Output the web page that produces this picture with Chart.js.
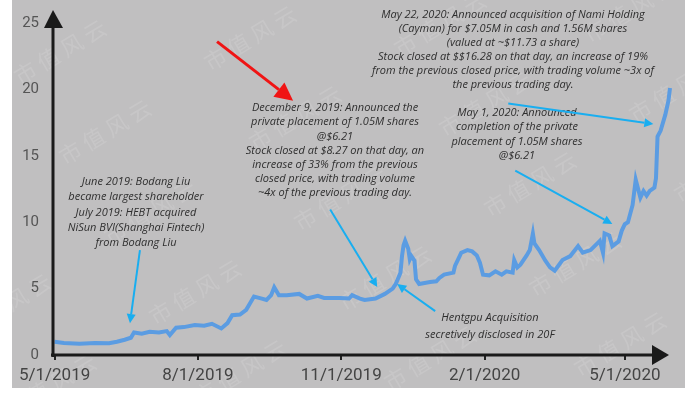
<!DOCTYPE html>
<html>
<head>
<meta charset="utf-8">
<title>NiSun share price</title>
<script src="https://cdn.jsdelivr.net/npm/chart.js@4.4.1/dist/chart.umd.min.js"></script>
<style>
  html, body { margin: 0; padding: 0; background: #ffffff; }
  #wrap { width: 700px; height: 393px; }
</style>
</head>
<body>
<div id="wrap"><canvas id="myChart"></canvas></div>
<script>
// closing price (USD)
var dates = [
  '2019-05-01','2019-05-07','2019-05-17','2019-05-27','2019-06-05','2019-06-10','2019-06-15','2019-06-19','2019-06-21','2019-06-26',
  '2019-07-01','2019-07-07','2019-07-12','2019-07-14','2019-07-18','2019-07-23','2019-07-30','2019-08-05','2019-08-10','2019-08-16',
  '2019-08-20','2019-08-23','2019-08-28','2019-09-01','2019-09-03','2019-09-06','2019-09-11','2019-09-14','2019-09-17','2019-09-19',
  '2019-09-22','2019-09-27','2019-10-05','2019-10-10','2019-10-17','2019-10-21','2019-10-31','2019-11-06','2019-11-08','2019-11-13',
  '2019-11-16','2019-11-23','2019-11-29','2019-12-04','2019-12-06','2019-12-09','2019-12-10','2019-12-11','2019-12-12','2019-12-14',
  '2019-12-15','2019-12-16','2019-12-18','2019-12-19','2019-12-21','2019-12-28','2020-01-01','2020-01-03','2020-01-06','2020-01-12',
  '2020-01-13','2020-01-16','2020-01-17','2020-01-21','2020-01-24','2020-01-27','2020-01-29','2020-01-31','2020-02-04','2020-02-08',
  '2020-02-12','2020-02-15','2020-02-19','2020-02-20','2020-02-22','2020-02-24','2020-02-28','2020-03-01','2020-03-03','2020-03-04',
  '2020-03-07','2020-03-11','2020-03-14','2020-03-17','2020-03-22','2020-03-27','2020-04-01','2020-04-04','2020-04-09','2020-04-15',
  '2020-04-17','2020-04-18','2020-04-21','2020-04-23','2020-04-27','2020-04-29','2020-05-01','2020-05-03','2020-05-06','2020-05-08',
  '2020-05-11','2020-05-13','2020-05-15','2020-05-17','2020-05-20','2020-05-21','2020-05-22','2020-05-24','2020-05-27','2020-05-29',
  '2020-05-30'
];
var prices = [
  1.0, 0.9, 0.85, 0.9, 0.88, 1.0, 1.15, 1.3, 1.7, 1.6,
  1.75, 1.7, 1.8, 1.5, 2.05, 2.1, 2.25, 2.2, 2.35, 2.0,
  2.4, 3.0, 3.05, 3.4, 3.8, 4.4, 4.25, 4.15, 4.5, 5.1,
  4.5, 4.5, 4.6, 4.25, 4.45, 4.3, 4.3, 4.25, 4.5, 4.25,
  4.15, 4.25, 4.6, 5.0, 5.35, 6.2, 7.45, 8.27, 8.6, 8.0,
  7.2, 7.45, 7.1, 5.7, 5.35, 5.5, 5.55, 5.8, 6.05, 6.2,
  6.7, 7.45, 7.7, 7.9, 7.8, 7.5, 6.95, 6.05, 6.0, 6.3,
  6.05, 6.3, 6.2, 7.15, 6.6, 6.8, 7.5, 7.9, 9.15, 8.4,
  7.9, 7.1, 6.6, 6.35, 7.15, 7.45, 8.2, 7.7, 7.9, 8.6,
  7.7, 9.15, 9.0, 8.2, 8.55, 9.35, 9.85, 10.0, 11.3, 13.2,
  11.85, 12.35, 12.0, 12.35, 12.6, 13.3, 16.45, 16.9, 18.1, 19.15,
  20.1
];
var tickDates = ['2019-05-01', '2019-08-01', '2019-11-01', '2020-02-01', '2020-05-01'];
var tickLabels = ['5/1/2019', '8/1/2019', '11/1/2019', '2/1/2020', '5/1/2020'];
var yMax = 25;
var yStep = 5;

// annotation text blocks: centre x, first line y (pixels), line gap
var notes = [
  { x: 136, y: 182, gap: 15.3, lines: ['June 2019: Bodang Liu', 'became largest shareholder', 'July 2019: HEBT acquired', 'NiSun BVI(Shanghai Fintech)', 'from Bodang Liu'] },
  { x: 335, y: 108, gap: 14.2, lines: ['December 9, 2019: Announced the', 'private placement of 1.05M shares', '@$6.21', 'Stock closed at $8.27 on that day, an', 'increase of 33% from the previous', 'closed price, with trading volume', '~4x of the previous trading day.'] },
  { x: 490, y: 318, gap: 17, lines: ['Hentgpu Acquisition', 'secretively disclosed in 20F'] },
  { x: 513, y: 15, gap: 14, lines: ['May 22, 2020: Announced acquisition of Nami Holding', '(Cayman) for $7.05M in cash and 1.56M shares', '(valued at ~$11.73 a share)', 'Stock closed at $$16.28 on that day, an increase of 19%', 'from the previous closed price, with trading volume ~3x of', 'the previous trading day.'] },
  { x: 517, y: 113, gap: 14.3, lines: ['May 1, 2020: Announced', 'completion of the private', 'placement of 1.05M shares', '@$6.21'] }
];

// pointer arrows, in chart units [day since 5/1/2019, price]
var arrows = [
  { from: [54.8, 7.9], to: [48.4, 2.4], color: '#19aef0', width: 2, head: 9 },
  { from: [176.9, 10.96], to: [207.1, 5.12], color: '#19aef0', width: 2, head: 9 },
  { from: [244.3, 3.3], to: [219.9, 5.34], color: '#19aef0', width: 2, head: 9 },
  { from: [291.2, 18.93], to: [384.3, 17.4], color: '#19aef0', width: 2, head: 9 },
  { from: [295.7, 13.89], to: [358.0, 9.87], color: '#19aef0', width: 2, head: 9 },
  { from: [104.3, 23.6], to: [153.1, 19.15], color: '#f01414', width: 3, head: 18 }
];

var noteFont = 'italic 11px "Open Sans"';
var noteColor = '#2e2e2e';

function dayOf(s) {
  var p = s.split('-');
  return (Date.UTC(+p[0], +p[1] - 1, +p[2]) - Date.UTC(2019, 4, 1)) / 86400000;
}

var points = dates.map(function (d, i) {
  return { x: dayOf(d), y: prices[i] };
});

function drawArrow(ctx, x1, y1, x2, y2, color, width, head) {
  var ang = Math.atan2(y2 - y1, x2 - x1);
  var bx = x2 - head * Math.cos(ang);
  var by = y2 - head * Math.sin(ang);
  ctx.strokeStyle = color;
  ctx.fillStyle = color;
  ctx.lineWidth = width;
  ctx.beginPath();
  ctx.moveTo(x1, y1);
  ctx.lineTo(bx, by);
  ctx.stroke();
  ctx.beginPath();
  ctx.moveTo(x2, y2);
  ctx.lineTo(bx + head * 0.5 * Math.sin(ang), by - head * 0.5 * Math.cos(ang));
  ctx.lineTo(bx - head * 0.5 * Math.sin(ang), by + head * 0.5 * Math.cos(ang));
  ctx.closePath();
  ctx.fill();
}

var decorPlugin = {
  id: 'decor',
  beforeDraw: function (chart) {
    var ctx = chart.ctx;
    ctx.save();
    ctx.fillStyle = '#ffffff';
    ctx.fillRect(0, 0, chart.width, chart.height);
    ctx.fillStyle = '#c0bfc0';
    ctx.fillRect(12, 0, 673, 388);
    // faint watermark tiles
    ctx.fillStyle = 'rgba(255,255,255,0.12)';
    ctx.font = '22px "Noto Sans CJK SC"';
    ctx.textAlign = 'center';
    ctx.textBaseline = 'middle';
    for (var r = -1; r < 6; r++) {
      for (var c = -1; c < 5; c++) {
        var wx = 60 + c * 190 + r * 45;
        var wy = 52 - c * 14 + r * 80;
        if (wx < -40 || wx > 740 || wy < -30 || wy > 420) continue;
        ctx.save();
        ctx.translate(wx, wy);
        ctx.rotate(-31 * Math.PI / 180);
        ctx.fillText('市 值 风 云', 0, 0);
        ctx.restore();
      }
    }
    ctx.restore();
  },
  afterDraw: function (chart) {
    var ctx = chart.ctx;
    var xs = chart.scales.x;
    var ys = chart.scales.y;
    var area = chart.chartArea;
    ctx.save();

    // axes with arrow heads
    ctx.strokeStyle = '#1a1a1a';
    ctx.fillStyle = '#1a1a1a';
    ctx.lineWidth = 3;
    ctx.beginPath();
    ctx.moveTo(area.left, ys.getPixelForValue(0) + 2);
    ctx.lineTo(area.left, 26);
    ctx.moveTo(area.left - 2, ys.getPixelForValue(0));
    ctx.lineTo(area.right - 15, ys.getPixelForValue(0));
    ctx.stroke();
    ctx.beginPath();
    ctx.moveTo(area.left, 10);
    ctx.lineTo(area.left - 9, 28);
    ctx.lineTo(area.left + 10, 28);
    ctx.closePath();
    ctx.fill();
    var y0 = ys.getPixelForValue(0);
    ctx.beginPath();
    ctx.moveTo(area.right - 1, y0);
    ctx.lineTo(area.right - 18, y0 - 10);
    ctx.lineTo(area.right - 18, y0 + 10);
    ctx.closePath();
    ctx.fill();

    // notes
    ctx.font = noteFont;
    ctx.fillStyle = noteColor;
    ctx.textAlign = 'center';
    ctx.textBaseline = 'middle';
    notes.forEach(function (n) {
      n.lines.forEach(function (line, i) {
        ctx.fillText(line, n.x, n.y + i * n.gap);
      });
    });

    // arrows
    arrows.forEach(function (a) {
      drawArrow(ctx,
        xs.getPixelForValue(a.from[0]), ys.getPixelForValue(a.from[1]),
        xs.getPixelForValue(a.to[0]), ys.getPixelForValue(a.to[1]),
        a.color, a.width, a.head);
    });
    ctx.restore();
  }
};

var ctx = document.getElementById('myChart');
new Chart(ctx, {
  type: 'line',
  data: {
    datasets: [{
      data: points,
      borderColor: '#5b9ce2',
      borderWidth: 4,
      pointRadius: 0,
      tension: 0,
      clip: false
    }]
  },
  options: {
    responsive: true,
    maintainAspectRatio: false,
    devicePixelRatio: 1,
    animation: false,
    layout: { padding: { left: 0, right: 30, top: 13, bottom: 0 } },
    plugins: {
      legend: { display: false },
      tooltip: { enabled: false }
    },
    scales: {
      x: {
        type: 'linear',
        min: -1,
        max: 395,
        border: { display: false },
        grid: { display: true, drawOnChartArea: false, drawTicks: true, tickLength: 5, color: '#222222', lineWidth: 2 },
        afterBuildTicks: function (scale) {
          scale.ticks = tickDates.map(function (d) { return { value: dayOf(d) }; });
        },
        afterFit: function (scale) { scale.height = 38; },
        ticks: {
          maxRotation: 0,
          autoSkip: false,
          padding: 6,
          color: '#444444',
          font: { family: 'Roboto', size: 17 },
          callback: function (value) {
            var i = tickDates.map(dayOf).indexOf(value);
            return i >= 0 ? tickLabels[i] : '';
          }
        }
      },
      y: {
        min: 0,
        max: yMax,
        border: { display: false },
        grid: { display: false, drawTicks: false },
        afterFit: function (scale) { scale.width = 53; },
        ticks: {
          stepSize: yStep,
          padding: 14,
          color: '#555555',
          font: { family: 'Roboto', size: 15 }
        }
      }
    }
  },
  plugins: [decorPlugin]
});
</script>
</body>
</html>
